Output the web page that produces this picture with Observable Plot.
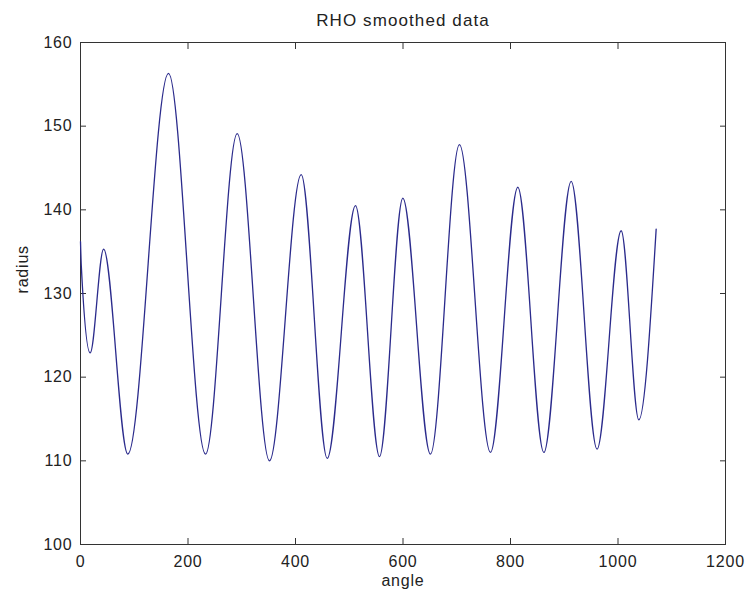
<!DOCTYPE html>
<html>
<head>
<meta charset="utf-8">
<script src="https://cdn.jsdelivr.net/npm/d3@7"></script>
<script src="https://cdn.jsdelivr.net/npm/@observablehq/plot@0.6"></script>
<style>
  html, body { margin: 0; padding: 0; background: #ffffff; }
  #chart svg { display: block; }
  #chart svg text { letter-spacing: 0.8px; }
</style>
</head>
<body>
<div id="chart"></div>
<script>
// Values (extrema and the start/end of the trace)
const angle  = [0, 1.5, 18, 43, 88, 163.7, 232.6, 291.5, 351.6, 410.6, 459, 511.6, 556.3, 599.7, 651, 705, 762.8, 813.6, 862, 912.9, 961, 1005.9, 1038.7, 1071];
const radius = [136.2, 133.3, 122.9, 135.3, 110.8, 156.3, 110.8, 149.1, 110.0, 144.2, 110.3, 140.5, 110.5, 141.4, 110.8, 147.8, 111.0, 142.7, 111.0, 143.4, 111.4, 137.5, 114.9, 137.7];
const xTicks = [0, 200, 400, 600, 800, 1000, 1200];
const yTicks = [100, 110, 120, 130, 140, 150, 160];
const titleText = ["RHO smoothed data"];
const xLabel = ["angle"];
const yLabel = ["radius"];

const data = angle.map((a, i) => ({angle: a, radius: radius[i]}));

const axisColor = "#333333";
const textColor = "#222222";

const chart = Plot.plot({
  width: 747,
  height: 598,
  marginLeft: 80,
  marginRight: 22,
  marginTop: 42,
  marginBottom: 54,
  style: {fontFamily: "'Liberation Sans', Arial, sans-serif", fontSize: "16px", background: "#ffffff", color: textColor},
  x: {domain: [0, 1200]},
  y: {domain: [100, 160]},
  marks: [
    Plot.frame({stroke: axisColor, strokeWidth: 1}),
    Plot.axisX({anchor: "bottom", ticks: xTicks, tickSize: -6, tickPadding: 17, tickFormat: d => String(d), stroke: axisColor, fill: textColor, label: null, fontSize: 16}),
    Plot.axisX({anchor: "top", ticks: xTicks, tickSize: -6, tickFormat: () => "", stroke: axisColor, label: null}),
    Plot.axisY({anchor: "left", ticks: yTicks, tickSize: -6, tickPadding: 14, tickFormat: d => String(d), stroke: axisColor, fill: textColor, label: null, fontSize: 16}),
    Plot.axisY({anchor: "right", ticks: yTicks, tickSize: -6, tickFormat: () => "", stroke: axisColor, label: null}),
    Plot.line(data, {x: "angle", y: "radius", curve: "monotone-x", stroke: "#2b2b8c", strokeWidth: 1.3}),
    Plot.text(titleText, {frameAnchor: "top", dy: -22, text: d => d, fill: textColor, fontSize: 17, lineAnchor: "middle"}),
    Plot.text(xLabel, {frameAnchor: "bottom", dy: 36, text: d => d, fill: textColor, fontSize: 16, lineAnchor: "middle"}),
    Plot.text(yLabel, {frameAnchor: "left", dx: -58, rotate: -90, text: d => d, fill: textColor, fontSize: 16, lineAnchor: "middle"})
  ]
});
d3.select(chart).selectAll("text")
  .filter(function() { return this.textContent === titleText[0]; })
  .style("letter-spacing", "1.1px");
document.getElementById("chart").appendChild(chart);
</script>
</body>
</html>
